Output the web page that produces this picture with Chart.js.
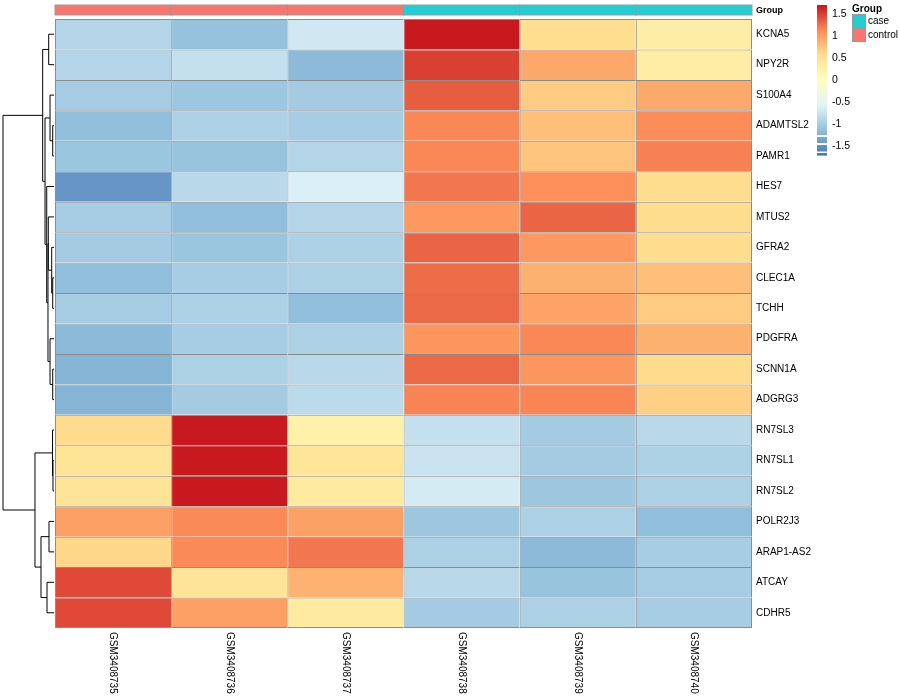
<!DOCTYPE html>
<html>
<head>
<meta charset="utf-8">
<script src="https://cdn.jsdelivr.net/npm/chart.js@4.4.0/dist/chart.umd.min.js"></script>
<style>html,body{margin:0;padding:0;background:#fff}</style>
</head>
<body>
<canvas id="heat" width="900" height="700"></canvas>
<script>
const genes = ['KCNA5','NPY2R','S100A4','ADAMTSL2','PAMR1','HES7','MTUS2','GFRA2','CLEC1A','TCHH',
  'PDGFRA','SCNN1A','ADGRG3','RN7SL3','RN7SL1','RN7SL2','POLR2J3','ARAP1-AS2','ATCAY','CDHR5'];
const samples = ['GSM3408735','GSM3408736','GSM3408737','GSM3408738','GSM3408739','GSM3408740'];
const groups = ['control','control','control','case','case','case'];

// scaled expression, one array per sample (rows in gene order)
const GSM3408735 = [-0.89,-0.89,-0.99,-1.13,-1.06,-1.46,-0.98,-1.0,-1.13,-0.99,-1.17,-1.22,-1.22,0.6,0.49,0.49,1.01,0.63,1.46,1.46];
const GSM3408736 = [-1.10,-0.77,-1.05,-0.94,-1.09,-0.85,-1.13,-1.06,-0.98,-0.94,-0.98,-0.94,-1.0,1.7,1.7,1.7,1.15,1.15,0.49,1.01];
const GSM3408737 = [-0.69,-1.17,-1.0,-0.98,-0.89,-0.6,-0.89,-0.94,-0.94,-1.13,-0.94,-0.85,-0.83,0.26,0.47,0.37,1.0,1.24,0.88,0.37];
const GSM3408738 = [1.7,1.51,1.37,1.16,1.16,1.24,1.06,1.33,1.29,1.31,1.08,1.31,1.18,-0.77,-0.74,-0.65,-1.05,-0.94,-0.85,-1.0];
const GSM3408739 = [0.58,0.95,0.71,0.79,0.76,1.12,1.33,1.06,0.89,0.98,1.16,1.07,1.17,-1.0,-1.0,-1.05,-0.94,-1.17,-1.09,-0.94];
const GSM3408740 = [0.31,0.31,0.94,1.13,1.19,0.59,0.59,0.59,0.79,0.71,0.89,0.6,0.68,-0.85,-0.94,-0.94,-1.13,-0.98,-0.99,-0.98];
const columns = [GSM3408735, GSM3408736, GSM3408737, GSM3408738, GSM3408739, GSM3408740];

const legendTicks = [1.5, 1, 0.5, 0, -0.5, -1, -1.5];

// row dendrogram, hclust style: negative = gene row (1-based), positive = earlier merge
const treeMerge = [[-1,-2],[-4,-5],[-3,2],[-9,-10],[-8,4],[-7,5],[-12,-13],[-11,7],[6,8],[-6,9],
  [3,10],[1,11],[-15,-16],[-14,13],[-17,-18],[-19,-20],[15,16],[14,17],[12,18]];
const treeHeight = [1.04,0.25,0.78,0.25,0.45,1.12,0.25,0.78,1.18,1.43,1.76,2.22,0.2,0.29,0.98,1.37,2.55,3.73,10];

const groupColors = { case: '#22CED3', control: '#F8766D' };
const stops = ['#4575B4','#91BFDB','#E0F3F8','#FFFFBF','#FEE090','#FC8D59','#C8191E'];
const vmin = -1.7, vmax = 1.7;
const FONT = '"Liberation Sans", Arial, sans-serif';

function hex(c){ return [1,3,5].map(k => parseInt(c.substr(k,2),16)); }
function colorFor(v){
  let t = (v - vmin) / (vmax - vmin);
  t = Math.max(0, Math.min(1, t));
  const p = t * (stops.length - 1);
  const i = Math.min(stops.length - 2, Math.floor(p));
  const f = p - i;
  const a = hex(stops[i]), b = hex(stops[i+1]);
  const c = a.map((x,k) => Math.round(x + (b[k]-x)*f));
  return `rgb(${c[0]},${c[1]},${c[2]})`;
}

const extras = {
  id: 'extras',
  afterDraw(chart){
    const c = chart.ctx, xs = chart.scales.x, ys = chart.scales.y;
    const area = chart.chartArea;
    c.save();
    // group annotation strip
    samples.forEach((s,j) => {
      const x0 = xs.getPixelForValue(j), x1 = xs.getPixelForValue(j+1);
      c.fillStyle = groupColors[groups[j]];
      c.fillRect(x0, 5, x1-x0, 10);
      c.strokeStyle = '#999';
      c.lineWidth = 1;
      c.strokeRect(x0, 5, x1-x0, 10);
    });
    c.fillStyle = '#000';
    c.font = 'bold 9px ' + FONT;
    c.textAlign = 'left'; c.textBaseline = 'middle';
    c.fillText('Group', area.right + 4, 11);

    // sample labels, reading downward
    c.font = '10px ' + FONT;
    samples.forEach((s,j) => {
      const cx = xs.getPixelForValue(j + 0.5);
      c.save();
      c.translate(cx, area.bottom + 4);
      c.rotate(Math.PI/2);
      c.textAlign = 'left'; c.textBaseline = 'middle';
      c.fillText(s, 0, 0);
      c.restore();
    });

    // dendrogram
    const leafX = area.left - 1, scale = 5.1;
    const pos = [];
    const yOf = k => k < 0 ? ys.getPixelForValue(-k-1) : pos[k-1].y;
    const xOf = k => k < 0 ? leafX : pos[k-1].x;
    c.strokeStyle = '#000'; c.lineWidth = 1;
    treeMerge.forEach((m,i) => {
      const x = leafX - treeHeight[i]*scale;
      const ya = yOf(m[0]), yb = yOf(m[1]);
      c.beginPath();
      c.moveTo(xOf(m[0]), ya); c.lineTo(x, ya);
      c.lineTo(x, yb); c.lineTo(xOf(m[1]), yb);
      c.stroke();
      pos.push({x, y: (ya+yb)/2});
    });

    // colour key
    const lx = 817, lw = 10, ly0 = 5, ly1 = 155;
    const pxPer = (ly1 - ly0) / (vmax - vmin);
    for (let k = 0; k < 100; k++){
      const v = vmin + (k + 0.5) * (vmax - vmin) / 100;
      const yTop = ly1 - (k+1) * (ly1-ly0) / 100;
      c.fillStyle = colorFor(v);
      c.fillRect(lx, yTop, lw, (ly1-ly0)/100 + 0.6);
    }
    c.fillStyle = '#fff';
    [[135,2],[143,2],[151.5,1.5]].forEach(g => c.fillRect(lx, g[0], lw, g[1]));
    c.fillStyle = '#000';
    c.font = '10.5px ' + FONT;
    c.textAlign = 'left'; c.textBaseline = 'middle';
    legendTicks.forEach(t => {
      const y = ly0 + (vmax - t) * pxPer;
      c.fillText(String(t), lx + 15, y);
    });

    // group legend
    c.font = 'bold 10px ' + FONT;
    c.textBaseline = 'middle';
    c.fillText('Group', 852, 9);
    c.font = '10px ' + FONT;
    ['case','control'].forEach((g,i) => {
      const y = 14 + i*14;
      c.fillStyle = groupColors[g];
      c.fillRect(852, y, 14, 14);
      c.strokeStyle = '#999';
      c.strokeRect(852.5, y + 0.5, 13, 13);
      c.fillStyle = '#000';
      c.fillText(g, 868, y + 7);
    });
    c.restore();
  }
};

new Chart(document.getElementById('heat').getContext('2d'), {
  type: 'bar',
  data: {
    labels: genes,
    datasets: samples.map((s,j) => ({
      label: s,
      data: genes.map(() => 1),
      backgroundColor: columns[j].map(colorFor),
      borderColor: '#8C8C8C',
      borderWidth: ctx => ({ top: 1, left: 1, right: j === samples.length-1 ? 1 : 0,
        bottom: ctx.dataIndex === genes.length-1 ? 1 : 0 }),
      borderSkipped: false,
      inflateAmount: 0,
      barPercentage: 1,
      categoryPercentage: 1
    }))
  },
  options: {
    indexAxis: 'y',
    responsive: false,
    animation: false,
    layout: { padding: { left: 55, top: 19, bottom: 72, right: 0 } },
    plugins: { legend: { display: false }, tooltip: { enabled: false } },
    scales: {
      x: { type: 'linear', stacked: true, min: 0, max: samples.length, display: false },
      y: {
        stacked: true,
        position: 'right',
        grid: { display: false, drawTicks: false },
        border: { display: false },
        ticks: { color: '#000', padding: 4, font: { family: FONT, size: 10 } },
        afterFit: s => { s.width = 148; }
      }
    }
  },
  plugins: [extras]
});
</script>
</body>
</html>
